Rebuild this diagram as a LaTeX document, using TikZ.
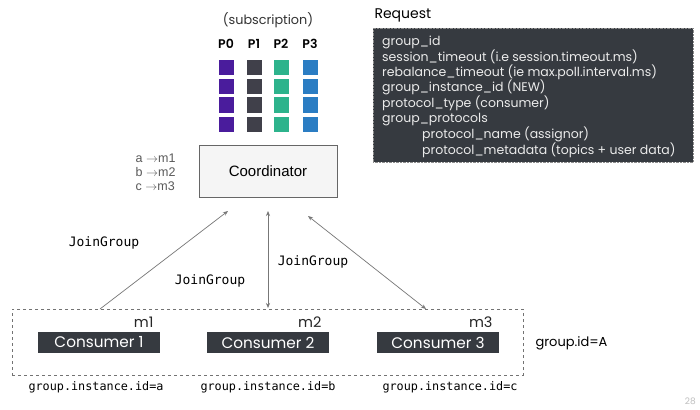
\documentclass[tikz,border=0pt]{standalone}
\usepackage{fontspec}
\setmainfont{Poppins}
\newfontfamily\arialf{Liberation Sans}
\newfontfamily\monof{DejaVu Sans Mono}
\usetikzlibrary{arrows.meta}
\definecolor{cpurple}{HTML}{4A1C9C}
\definecolor{cgray}{HTML}{40404A}
\definecolor{cteal}{HTML}{2DB38C}
\definecolor{cblue}{HTML}{2B7DC3}
\definecolor{cdark}{HTML}{363A40}
\definecolor{cline}{HTML}{777777}
\tikzset{
  sq/.style={minimum width=15pt,minimum height=15pt,inner sep=0pt,draw=none},
  cons/.style={fill=cdark,text=white,minimum width=122pt,minimum height=21pt,inner sep=0pt,font=\fontsize{15.3}{16}\selectfont},
  mlab/.style={font=\fontsize{14.5}{15}\selectfont,text=black!85,anchor=east},
  jg/.style={font=\monof\fontsize{13}{14}\selectfont},
  gid/.style={font=\monof\fontsize{11.8}{13}\selectfont},
  conn/.style={draw=cline,line width=0.7pt},
  tip/.style={-{Stealth[length=5pt,width=4pt]}},
  tips/.style={{Stealth[length=5pt,width=4pt]}-{Stealth[length=5pt,width=4pt]}},
}
\begin{document}
\begin{tikzpicture}[x=1pt,y=-1pt]
\useasboundingbox (0,0) rectangle (700,409);
\fill[white] (0,0) rectangle (700,409);
% subscription
\node[font=\fontsize{12.8}{14}\selectfont,text=black!80] (sub) at (268,20) {(subscription)};
\foreach \n/\x in {0/226,1/254,2/281,3/310}{
  \node[font=\fontsize{12.5}{13}\selectfont\fontspec{Poppins SemiBold}] (p\n) at (\x,44) {P\n};
}
\foreach \r/\y in {1/68,2/86.5,3/105,4/124.5}{
  \node[sq,fill=cpurple] (a\r) at (226,\y) {};
  \node[sq,fill=cgray] (b\r) at (254,\y) {};
  \node[sq,fill=cteal] (c\r) at (281,\y) {};
  \node[sq,fill=cblue] (d\r) at (310,\y) {};
}
% coordinator
\node[draw=black!60,fill=black!4,minimum width=138pt,minimum height=52pt,inner sep=0pt,font=\arialf\fontsize{15}{16}\selectfont] (coord) at (268,171) {Coordinator};
\node[anchor=east,align=left,text=black!65,font=\arialf\fontsize{12.5}{14}\selectfont] (map) at (179,172) {a $\to$m1\\b $\to$m2\\c $\to$m3};
% request
\node[anchor=west,font=\fontsize{14}{15}\selectfont] (reqlab) at (371,15) {Request};
\node[fill=cdark,draw=black!45,densely dotted,minimum width=320pt,minimum height=134pt,inner sep=0pt,anchor=north west] (req) at (373,28) {};
\node[anchor=north west,text=white!92!black,align=left,inner sep=0pt,font=\fontsize{12.5}{15}\selectfont] (reqtxt) at (382,36) {group\_id\\session\_timeout (i.e session.timeout.ms)\\rebalance\_timeout (ie max.poll.interval.ms)\\group\_instance\_id (NEW)\\protocol\_type (consumer)\\group\_protocols\\\hspace{40pt}protocol\_name (assignor)\\\hspace{40pt}protocol\_metadata (topics + user data)};
% group box
\node[draw=black!55,dashed,minimum width=511pt,minimum height=66pt,inner sep=0pt,anchor=north west] (grp) at (12,309) {};
\node[cons] (c1) at (99,342.5) {Consumer 1};
\node[cons] (c2) at (268,342.5) {Consumer 2};
\node[cons] (c3) at (438,342.5) {Consumer 3};
\node[mlab] (m1) at (157,322) {m1};
\node[mlab] (m2) at (325,322) {m2};
\node[mlab] (m3) at (496,322) {m3};
\node[anchor=west,font=\fontsize{13}{14}\selectfont] (gida) at (532,343) {group.id=A};
\node[gid] (g1) at (96,387) {group.instance.id=a};
\node[gid] (g2) at (268,387) {group.instance.id=b};
\node[gid] (g3) at (450,387) {group.instance.id=c};
% connectors
\coordinate (l0) at (100,309); \coordinate (l1) at (228,211);
\coordinate (mid0) at (268,308); \coordinate (mid1) at (268,211);
\coordinate (r0) at (426,309); \coordinate (r1) at (308,216);
\draw[conn,tip] (l0) -- (l1);
\draw[conn,tips] (mid0) -- (mid1);
\draw[conn,tips] (r0) -- (r1);
\node[jg] (j1) at (104,243) {JoinGroup};
\node[jg] (j2) at (210,281) {JoinGroup};
\node[jg] (j3) at (313,262) {JoinGroup};
% page number
\node[text=black!25,font=\fontsize{9}{10}\selectfont,anchor=south east,inner sep=0pt] (pg) at (696,405) {28};
\end{tikzpicture}
\end{document}
